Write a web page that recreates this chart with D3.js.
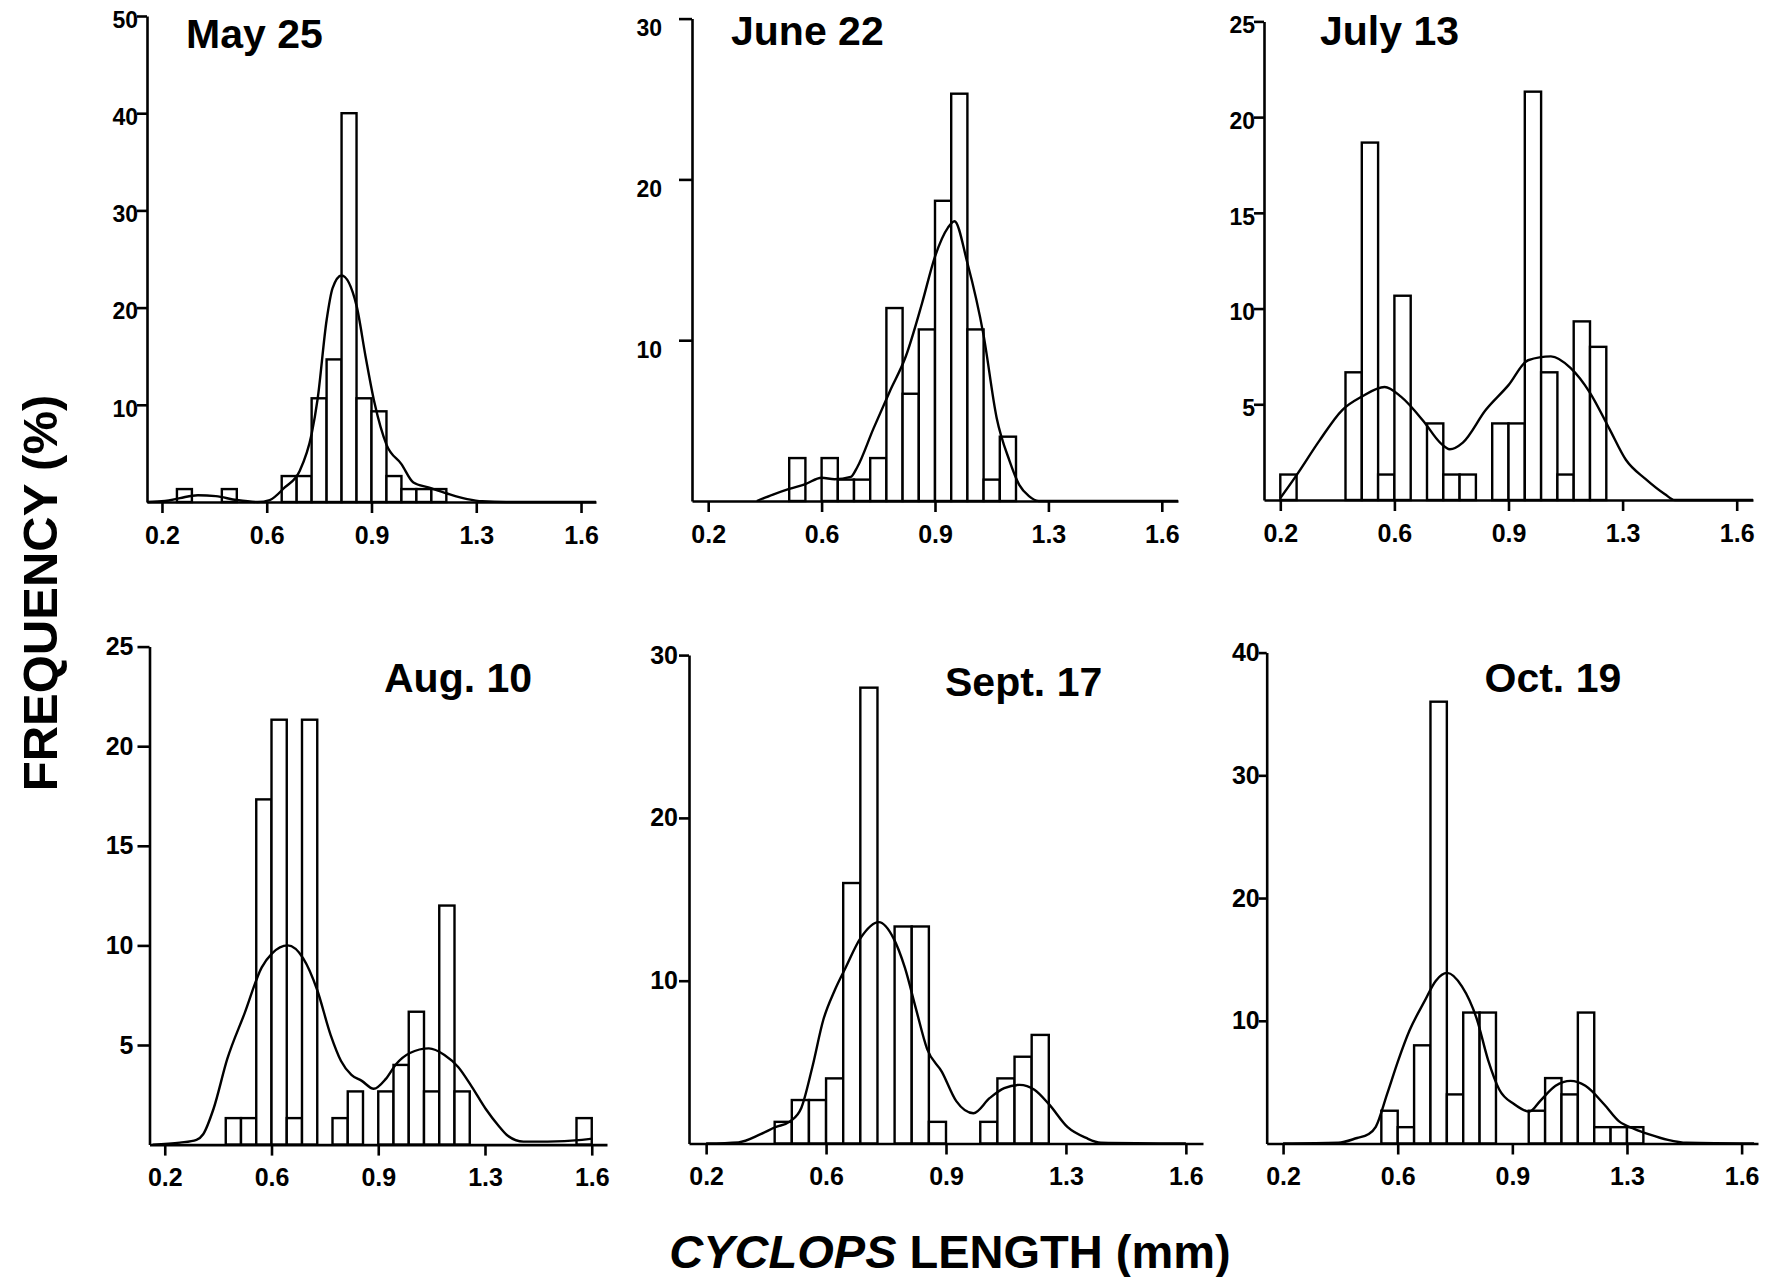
<!DOCTYPE html>
<html>
<head>
<meta charset="utf-8">
<script src="https://cdn.jsdelivr.net/npm/d3@7.9.0/dist/d3.min.js"></script>
<style>
  body { margin: 0; background: #fff; }
  svg { display: block; font-family: "Liberation Sans", Arial, sans-serif; font-weight: bold; }
</style>
</head>
<body>
<svg id="chart" width="1787" height="1277"></svg>
<script>
// panel titles and shared axis ticks
const panelTitles = ['May 25', 'June 22', 'July 13', 'Aug. 10', 'Sept. 17', 'Oct. 19'];
const xTickValues = [0.25, 0.6, 0.95, 1.3, 1.65];
const xTickLabels = ['0.2', '0.6', '0.9', '1.3', '1.6'];
const binWidth = 0.05;

const yTicksMay = [10, 20, 30, 40, 50];
const yTicksJune = [10, 20, 30];
const yTicksJuly = [5, 10, 15, 20, 25];
const yTicksAug = [5, 10, 15, 20, 25];
const yTicksSept = [10, 20, 30];
const yTicksOct = [10, 20, 30, 40];

// histogram bins: [bin start (mm), frequency %]
const may25Bins = [[0.30, 1.33], [0.45, 1.33], [0.65, 2.67], [0.70, 2.67], [0.75, 10.67], [0.80, 14.67],
  [0.85, 40], [0.90, 10.67], [0.95, 9.33], [1.00, 2.67], [1.05, 1.33], [1.10, 1.33], [1.15, 1.33]];
const june22Bins = [[0.50, 2.67], [0.60, 2.67], [0.65, 1.33], [0.70, 1.33], [0.75, 2.67], [0.80, 12],
  [0.85, 6.67], [0.90, 10.67], [0.95, 18.67], [1.00, 25.33], [1.05, 10.67], [1.10, 1.33], [1.15, 4]];
const july13Bins = [[0.25, 1.33], [0.45, 6.67], [0.50, 18.67], [0.55, 1.33], [0.60, 10.67], [0.70, 4],
  [0.75, 1.33], [0.80, 1.33], [0.90, 4], [0.95, 4], [1.00, 21.33], [1.05, 6.67], [1.10, 1.33], [1.15, 9.33], [1.20, 8]];
const aug10Bins = [[0.45, 1.33], [0.50, 1.33], [0.55, 17.33], [0.60, 21.33], [0.65, 1.33], [0.70, 21.33],
  [0.80, 1.33], [0.85, 2.67], [0.95, 2.67], [1.00, 4], [1.05, 6.67], [1.10, 2.67], [1.15, 12], [1.20, 2.67], [1.60, 1.33]];
const sept17Bins = [[0.45, 1.33], [0.50, 2.67], [0.55, 2.67], [0.60, 4], [0.65, 16], [0.70, 28],
  [0.80, 13.33], [0.85, 13.33], [0.90, 1.33], [1.05, 1.33], [1.10, 4], [1.15, 5.33], [1.20, 6.67]];
const oct19Bins = [[0.55, 2.67], [0.60, 1.33], [0.65, 8], [0.70, 36], [0.75, 4], [0.80, 10.67], [0.85, 10.67],
  [1.00, 2.67], [1.05, 5.33], [1.10, 4], [1.15, 10.67], [1.20, 1.33], [1.25, 1.33], [1.30, 1.33]];

// smoothed density curves: [length mm, %]
const may25Curve = [[0.20, 0], [0.26, 0.1], [0.31, 0.4], [0.37, 0.7], [0.43, 0.6], [0.50, 0.2], [0.57, 0],
  [0.61, 0.2], [0.66, 1.5], [0.71, 3.2], [0.75, 7.0], [0.77, 10.6], [0.80, 18.7], [0.82, 22.0], [0.85, 23.3],
  [0.90, 20.2], [0.93, 15.0], [0.96, 10.2], [1.00, 5.9], [1.05, 3.9], [1.09, 2.0], [1.14, 1.5], [1.20, 0.9],
  [1.27, 0.3], [1.32, 0.07], [1.40, 0], [1.70, 0]];
const june22Curve = [[0.40, 0], [0.45, 0.4], [0.50, 0.75], [0.55, 1.05], [0.60, 1.45], [0.64, 1.35],
  [0.69, 1.5], [0.71, 2.1], [0.76, 4.5], [0.81, 6.8], [0.86, 9.0], [0.91, 12.3], [0.95, 15.2], [0.99, 17.0],
  [1.01, 17.4], [1.05, 14.8], [1.10, 10.3], [1.14, 5.2], [1.18, 2.5], [1.21, 1.0], [1.24, 0.3], [1.27, 0], [1.70, 0]];
const july13Curve = [[0.25, 0.1], [0.30, 1.3], [0.37, 3.1], [0.44, 4.7], [0.50, 5.4], [0.57, 5.9], [0.62, 5.4],
  [0.69, 4.1], [0.74, 3.0], [0.77, 2.65], [0.81, 3.0], [0.88, 4.7], [0.95, 6.0], [1.01, 7.3], [1.08, 7.5],
  [1.14, 6.9], [1.20, 5.6], [1.26, 3.7], [1.31, 2.1], [1.37, 1.1], [1.43, 0.3], [1.46, 0], [1.70, 0]];
const aug10Curve = [[0.21, 0], [0.30, 0.1], [0.354, 0.24], [0.376, 0.52], [0.41, 1.8], [0.455, 4.3],
  [0.512, 6.6], [0.568, 8.9], [0.602, 9.6], [0.653, 10.0], [0.704, 9.35], [0.749, 7.8], [0.794, 5.5],
  [0.828, 4.2], [0.862, 3.5], [0.896, 3.2], [0.935, 2.8], [0.975, 3.3], [1.009, 4.05], [1.054, 4.6],
  [1.116, 4.83], [1.167, 4.5], [1.212, 3.9], [1.257, 2.9], [1.302, 1.8], [1.347, 0.9], [1.376, 0.43],
  [1.426, 0.15], [1.505, 0.15], [1.618, 0.24], [1.652, 0.3]];
const sept17Curve = [[0.25, 0], [0.344, 0.07], [0.409, 0.57], [0.452, 1.0], [0.495, 1.36], [0.528, 2.2],
  [0.56, 4.7], [0.592, 7.6], [0.625, 9.4], [0.657, 10.8], [0.70, 12.6], [0.754, 13.6], [0.797, 12.6],
  [0.83, 10.8], [0.862, 8.3], [0.895, 5.8], [0.938, 4.4], [0.98, 2.6], [1.03, 1.86], [1.078, 2.8],
  [1.12, 3.4], [1.165, 3.6], [1.208, 3.3], [1.251, 2.4], [1.305, 1.0], [1.359, 0.34], [1.402, 0.05], [1.65, 0]];
const oct19Curve = [[0.25, 0], [0.419, 0.06], [0.476, 0.45], [0.51, 0.75], [0.533, 1.36], [0.568, 4.07],
  [0.602, 6.8], [0.636, 9.2], [0.682, 11.6], [0.716, 13.25], [0.751, 13.9], [0.796, 12.8], [0.842, 10.1],
  [0.876, 6.8], [0.91, 4.4], [0.956, 3.2], [1.002, 2.6], [1.036, 3.5], [1.082, 4.7], [1.128, 5.1],
  [1.173, 4.7], [1.23, 3.2], [1.276, 1.8], [1.322, 1.2], [1.368, 0.75], [1.425, 0.3], [1.482, 0.06], [1.688, 0]];

const panelBins = [may25Bins, june22Bins, july13Bins, aug10Bins, sept17Bins, oct19Bins];
const panelCurves = [may25Curve, june22Curve, july13Curve, aug10Curve, sept17Curve, oct19Curve];
const panelYTicks = [yTicksMay, yTicksJune, yTicksJuly, yTicksAug, yTicksSept, yTicksOct];

// where each panel sits on the page
const layout = [
  { left: 147, right: 596, base: 502, top: 16, yFont: 23, yGap: 9, yTick: 10, yDy: 4, titleX: 186, titleY: 48 },
  { left: 692, right: 1178, base: 501, top: 18.6, yFont: 23, yGap: 30, yTick: 13, yDy: 10, titleX: 731, titleY: 45 },
  { left: 1264, right: 1753, base: 500, top: 21.4, yFont: 23, yGap: 9, yTick: 10, yDy: 4, titleX: 1320, titleY: 45 },
  { left: 149.5, right: 607, base: 1144.6, top: 646.6, yFont: 25, yGap: 16, yTick: 12, yDy: 0, titleX: 384, titleY: 692 },
  { left: 689, right: 1203, base: 1143.5, top: 655.1, yFont: 25, yGap: 11, yTick: 10, yDy: 0, titleX: 945, titleY: 696 },
  { left: 1266.7, right: 1758, base: 1143.5, top: 652.6, yFont: 25, yGap: 7, yTick: 8, yDy: 0, titleX: 1484.5, titleY: 692 }
];

const svg = d3.select('#chart');

function drawPanel(idx) {
  const p = layout[idx];
  const ticks = panelYTicks[idx];
  const x = d3.scaleLinear().domain([0.2, 1.7]).range([p.left, p.right]);
  const y = d3.scaleLinear().domain([0, d3.max(ticks)]).range([p.base, p.top]);
  const g = svg.append('g').attr('class', 'panel');

  // bars
  g.selectAll('rect')
    .data(panelBins[idx])
    .join('rect')
    .attr('x', d => x(d[0]))
    .attr('width', d => x(d[0] + binWidth) - x(d[0]))
    .attr('y', d => y(d[1]))
    .attr('height', d => y(0) - y(d[1]))
    .attr('fill', '#fff')
    .attr('stroke', '#000')
    .attr('stroke-width', 2.4);

  // density line
  const line = d3.line()
    .x(d => x(d[0]))
    .y(d => y(d[1]))
    .curve(d3.curveMonotoneX);
  g.append('path')
    .attr('d', line(panelCurves[idx]))
    .attr('fill', 'none')
    .attr('stroke', '#000')
    .attr('stroke-width', 2.4);

  // x axis
  const xAxis = g.append('g')
    .attr('transform', `translate(0,${p.base})`)
    .call(d3.axisBottom(x)
      .tickValues(xTickValues)
      .tickFormat((d, i) => xTickLabels[i])
      .tickSize(11)
      .tickPadding(13)
      .tickSizeOuter(0));

  // y axis
  const yAxis = g.append('g')
    .attr('transform', `translate(${p.left},0)`)
    .call(d3.axisLeft(y)
      .tickValues(ticks)
      .tickSize(p.yTick)
      .tickPadding(p.yGap - p.yTick)
      .tickSizeOuter(0));

  [xAxis, yAxis].forEach(a => {
    a.attr('font-family', null).attr('font-size', null);
    a.select('.domain').attr('stroke', '#000').attr('stroke-width', 2.6);
    a.selectAll('.tick line').attr('stroke', '#000').attr('stroke-width', 2.6);
    a.selectAll('.tick text').attr('fill', '#000');
  });
  xAxis.selectAll('.tick text').attr('font-size', 25);
  yAxis.selectAll('.tick text')
    .attr('font-size', p.yFont)
    .attr('transform', `translate(0,${p.yDy})`);

  g.append('text')
    .attr('x', p.titleX)
    .attr('y', p.titleY)
    .attr('font-size', 41)
    .text(panelTitles[idx]);
}

panelTitles.forEach((t, i) => drawPanel(i));

// shared axis labels
svg.append('text')
  .attr('transform', 'translate(57,593) rotate(-90)')
  .attr('text-anchor', 'middle')
  .attr('font-size', 49)
  .text('FREQUENCY (%)');

const xLabel = svg.append('text')
  .attr('x', 950)
  .attr('y', 1268)
  .attr('text-anchor', 'middle')
  .attr('font-size', 47);
xLabel.append('tspan').attr('font-style', 'italic').text('CYCLOPS');
xLabel.append('tspan').text(' LENGTH (mm)');
</script>
</body>
</html>
